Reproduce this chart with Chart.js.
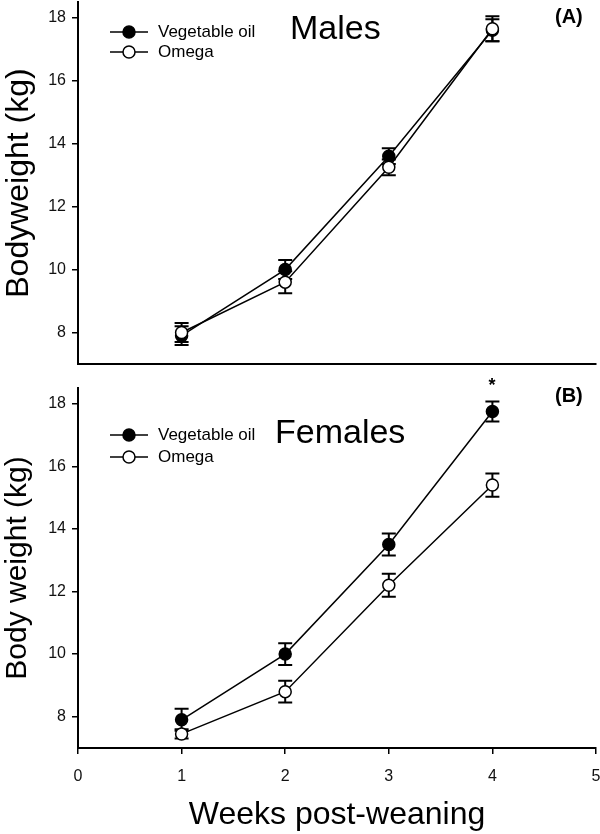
<!DOCTYPE html>
<html>
<head>
<meta charset="utf-8">
<script src="https://cdn.jsdelivr.net/npm/chart.js@4.4.0/dist/chart.umd.min.js"></script>
<style>
  html, body { margin: 0; padding: 0; background: #fff; }
  #wrap { position: relative; width: 600px; height: 834px; }
  canvas { position: absolute; left: 0; }
</style>
</head>
<body>
<div id="wrap">
  <canvas id="males" width="600" height="370" style="top:0px"></canvas>
  <canvas id="females" width="600" height="464" style="top:370px"></canvas>
</div>
<script>
const weeks = [1, 2, 3, 4];
const yTicks = [8, 10, 12, 14, 16, 18];
const xTicks = [0, 1, 2, 3, 4, 5];
const seriesNames = ['Vegetable oil', 'Omega'];

// (A) males
const malesVeg = [7.9, 10.0, 13.6, 17.6];
const malesVegErr = [0.3, 0.3, 0.25, 0.35];
const malesOmega = [8.0, 9.6, 13.25, 17.65];
const malesOmegaErr = [0.3, 0.35, 0.25, 0.4];

// (B) females
const femalesVeg = [7.9, 10.0, 13.5, 17.75];
const femalesVegErr = [0.35, 0.35, 0.35, 0.32];
const femalesOmega = [7.45, 8.8, 12.2, 15.4];
const femalesOmegaErr = [0.15, 0.35, 0.37, 0.37];

const FONT = '"Liberation Sans", Arial, sans-serif';

// draws mean +/- error whiskers under the markers
const errorBars = {
  id: 'errorBars',
  beforeDatasetsDraw(chart) {
    const { ctx, scales: { x, y } } = chart;
    ctx.save();
    ctx.strokeStyle = '#000';
    ctx.lineWidth = 2;
    chart.data.datasets.forEach((ds) => {
      ds.data.forEach((pt, i) => {
        const e = ds.errors[i];
        const px = x.getPixelForValue(pt.x);
        const top = y.getPixelForValue(pt.y + e);
        const bot = y.getPixelForValue(pt.y - e);
        ctx.beginPath();
        ctx.moveTo(px, top); ctx.lineTo(px, bot);
        ctx.moveTo(px - 7, top); ctx.lineTo(px + 7, top);
        ctx.moveTo(px - 7, bot); ctx.lineTo(px + 7, bot);
        ctx.stroke();
      });
    });
    ctx.restore();
  }
};

// legend, panel title, panel letter and significance mark
const panelText = {
  id: 'panelText',
  afterDraw(chart, args, o) {
    const ctx = chart.ctx;
    ctx.save();
    ctx.fillStyle = '#000';
    ctx.strokeStyle = '#000';
    ctx.textBaseline = 'middle';
    ctx.textAlign = 'left';

    // legend rows
    o.legendY.forEach((ly, i) => {
      ctx.lineWidth = 1.5;
      ctx.beginPath();
      ctx.moveTo(110, ly); ctx.lineTo(148, ly);
      ctx.stroke();
      ctx.beginPath();
      ctx.arc(129, ly, 6, 0, Math.PI * 2);
      ctx.fillStyle = i === 0 ? '#000' : '#fff';
      ctx.fill();
      ctx.stroke();
      ctx.fillStyle = '#000';
      ctx.font = '17px ' + FONT;
      ctx.fillText(seriesNames[i], 158, ly);
    });

    ctx.font = '34px ' + FONT;
    ctx.fillText(o.title, o.titleX, o.titleY);

    ctx.font = 'bold 20px ' + FONT;
    ctx.fillText(o.letter, 555, o.letterY);

    if (o.star) {
      ctx.textAlign = 'center';
      ctx.font = 'bold 18px ' + FONT;
      ctx.fillText('*', o.star[0], o.star[1]);
    }
    ctx.restore();
  }
};

function makePanel(id, veg, vegErr, omega, omegaErr, cfg) {
  const ctx = document.getElementById(id).getContext('2d');
  return new Chart(ctx, {
    type: 'line',
    data: {
      datasets: [
        {
          label: seriesNames[0],
          data: weeks.map((w, i) => ({ x: w, y: veg[i] })),
          errors: vegErr,
          borderColor: '#000',
          borderWidth: 1.5,
          pointRadius: 6,
          pointBackgroundColor: '#000',
          pointBorderColor: '#000',
          order: 2,
          clip: false
        },
        {
          label: seriesNames[1],
          data: weeks.map((w, i) => ({ x: w, y: omega[i] })),
          errors: omegaErr,
          borderColor: '#000',
          borderWidth: 1.5,
          pointRadius: 6,
          pointBorderWidth: 1.5,
          pointBackgroundColor: '#fff',
          pointBorderColor: '#000',
          order: 1,
          clip: false
        }
      ]
    },
    options: {
      responsive: false,
      animation: false,
      devicePixelRatio: 1,
      layout: { autoPadding: false, padding: { top: cfg.padTop, right: 4, left: 0, bottom: 0 } },
      plugins: {
        legend: { display: false },
        tooltip: { enabled: false },
        panelText: cfg.text
      },
      scales: {
        x: {
          type: 'linear',
          min: 0,
          max: 5,
          afterBuildTicks: (s) => { s.ticks = xTicks.map((v) => ({ value: v })); },
          afterFit: (s) => { s.height = cfg.xHeight; s.paddingLeft = 0; s.paddingRight = 0; },
          border: { color: '#000', width: 2 },
          grid: { drawOnChartArea: false, drawTicks: cfg.xLabels, tickLength: 6, color: '#000', lineWidth: 1.5 },
          ticks: { display: cfg.xLabels, color: '#111', padding: 13, font: { family: FONT, size: 16 } },
          title: {
            display: cfg.xLabels,
            text: 'Weeks post-weaning',
            color: '#000',
            padding: 0,
            font: { family: FONT, size: 32 }
          }
        },
        y: {
          min: 7,
          max: 18.5,
          afterBuildTicks: (s) => { s.ticks = yTicks.map((v) => ({ value: v })); },
          afterFit: (s) => { s.width = 78; s.paddingTop = 0; s.paddingBottom = 0; },
          border: { color: '#000', width: 2 },
          grid: { drawOnChartArea: false, tickLength: 6, color: '#000', lineWidth: 1.5 },
          ticks: { color: '#111', padding: 6, font: { family: FONT, size: 16 } },
          title: {
            display: true,
            text: cfg.yTitle,
            color: '#000',
            padding: 0,
            font: { family: FONT, size: cfg.yTitleSize }
          }
        }
      }
    },
    plugins: [errorBars, panelText]
  });
}

makePanel('males', malesVeg, malesVegErr, malesOmega, malesOmegaErr, {
  padTop: 2,
  xHeight: 6,
  xLabels: false,
  yTitle: 'Bodyweight (kg)',
  yTitleSize: 32,
  text: { legendY: [32, 52], title: 'Males', titleX: 290, titleY: 30, letter: '(A)', letterY: 17 }
});

makePanel('females', femalesVeg, femalesVegErr, femalesOmega, femalesOmegaErr, {
  padTop: 18,
  xHeight: 86,
  xLabels: true,
  yTitle: 'Body weight (kg)',
  yTitleSize: 30,
  text: { legendY: [65, 87], title: 'Females', titleX: 275, titleY: 64, letter: '(B)', letterY: 26, star: [492, 16] }
});
</script>
</body>
</html>
